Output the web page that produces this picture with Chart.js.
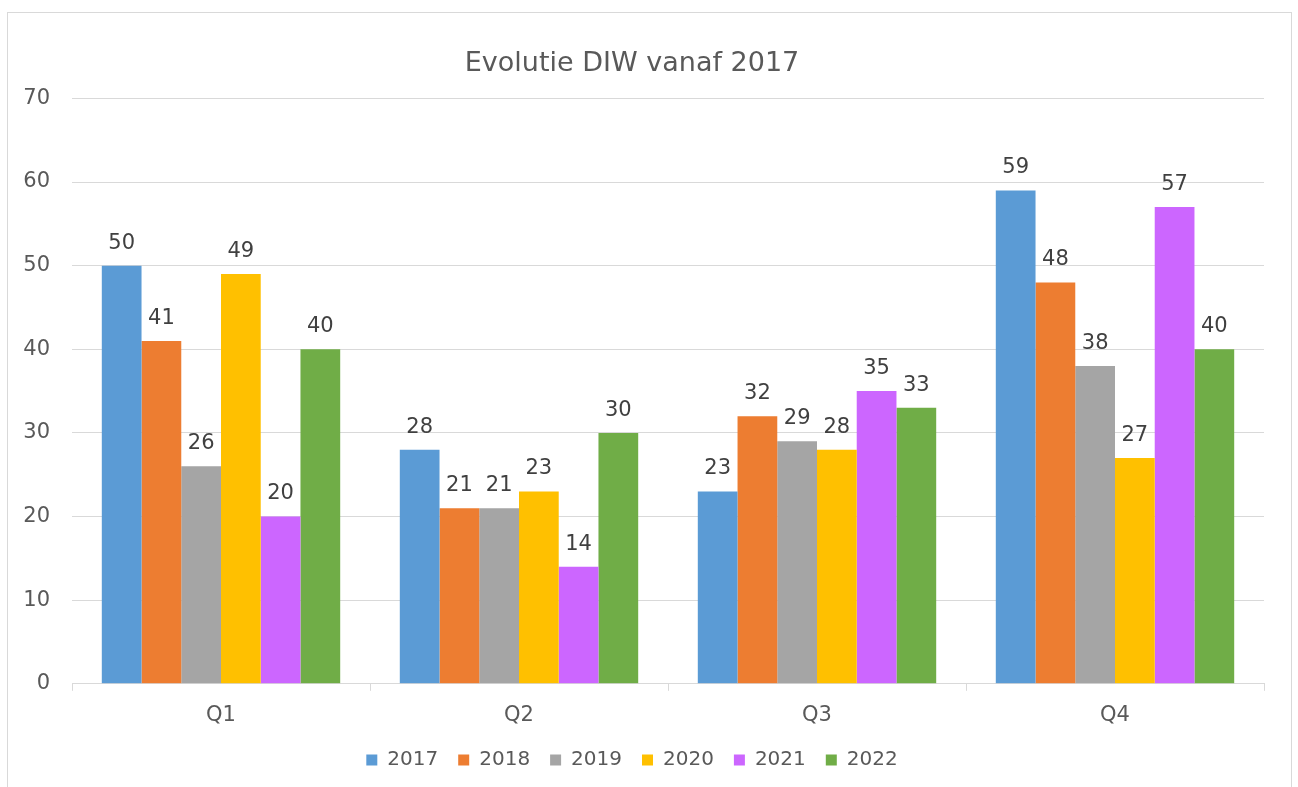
<!DOCTYPE html>
<html>
<head>
<meta charset="utf-8">
<script src="https://cdn.jsdelivr.net/npm/chart.js@4"></script>
<style>
  html, body { margin: 0; padding: 0; background: #fff; }
  #wrap { width: 1298px; height: 787px; }
</style>
</head>
<body>
<div id="wrap"><canvas id="diwChart" width="1298" height="787"></canvas></div>
<script>
// Quarters on the x axis, one series per year
const quarters = ['Q1', 'Q2', 'Q3', 'Q4'];
const years = ['2017', '2018', '2019', '2020', '2021', '2022'];

const values2017 = [50, 28, 23, 59];
const values2018 = [41, 21, 32, 48];
const values2019 = [26, 21, 29, 38];
const values2020 = [49, 23, 28, 27];
const values2021 = [20, 14, 35, 57];
const values2022 = [40, 30, 33, 40];

const yTicks = [0, 10, 20, 30, 40, 50, 60, 70];

const seriesValues = [values2017, values2018, values2019, values2020, values2021, values2022];
const seriesColors = ['#5b9bd5', '#ed7d31', '#a5a5a5', '#ffc000', '#cc66ff', '#70ad47'];

const FONT = '"DejaVu Sans", Verdana, sans-serif';

// Outer frame like the spreadsheet chart border
const framePlugin = {
    id: 'frame',
    beforeDraw: function(chart) {
        const c = chart.ctx;
        c.save();
        c.strokeStyle = '#d9d9d9';
        c.lineWidth = 1;
        c.strokeRect(7.5, 12.5, 1284, 800);
        c.restore();
    }
};

// Value labels above each bar
const valueLabels = {
    id: 'valueLabels',
    afterDatasetsDraw: function(chart) {
        const c = chart.ctx;
        c.save();
        c.font = '21px ' + FONT;
        c.fillStyle = '#404040';
        c.textAlign = 'center';
        c.textBaseline = 'bottom';
        chart.data.datasets.forEach((ds, i) => {
            chart.getDatasetMeta(i).data.forEach((bar, j) => {
                c.fillText(ds.data[j], bar.x, bar.y - 12);
            });
        });
        c.restore();
    }
};

new Chart(document.getElementById('diwChart'), {
    type: 'bar',
    data: {
        labels: quarters,
        datasets: years.map((y, i) => ({
            label: y,
            data: seriesValues[i],
            backgroundColor: seriesColors[i],
            borderWidth: 0,
            categoryPercentage: 0.8,
            barPercentage: 1.0
        }))
    },
    options: {
        responsive: false,
        animation: false,
        layout: { padding: { left: 0, right: 34, top: 48, bottom: 7 } },
        plugins: {
            title: {
                display: true,
                text: 'Evolutie DIW vanaf 2017',
                color: '#595959',
                font: { family: FONT, size: 27, weight: 'normal' },
                padding: { top: 0, bottom: 18 }
            },
            legend: {
                position: 'bottom',
                labels: {
                    color: '#595959',
                    font: { family: FONT, size: 20 },
                    boxWidth: 11,
                    boxHeight: 11,
                    padding: 20
                }
            },
            tooltip: { enabled: false }
        },
        scales: {
            x: {
                afterFit: function(scale) { scale.height -= 10; },
                grid: {
                    drawOnChartArea: false,
                    drawTicks: true,
                    tickLength: 7,
                    color: '#d9d9d9'
                },
                border: { color: '#d9d9d9' },
                ticks: {
                    color: '#595959',
                    font: { family: FONT, size: 21 },
                    padding: 12
                }
            },
            y: {
                min: 0,
                max: 70,
                afterFit: function(scale) { scale.width = 72; },
                afterBuildTicks: function(scale) {
                    scale.ticks = yTicks.map(v => ({ value: v }));
                },
                grid: { color: '#d9d9d9', drawTicks: false },
                border: { display: false },
                ticks: {
                    color: '#595959',
                    font: { family: FONT, size: 21 },
                    padding: 22
                }
            }
        }
    },
    plugins: [framePlugin, valueLabels]
});
</script>
</body>
</html>
